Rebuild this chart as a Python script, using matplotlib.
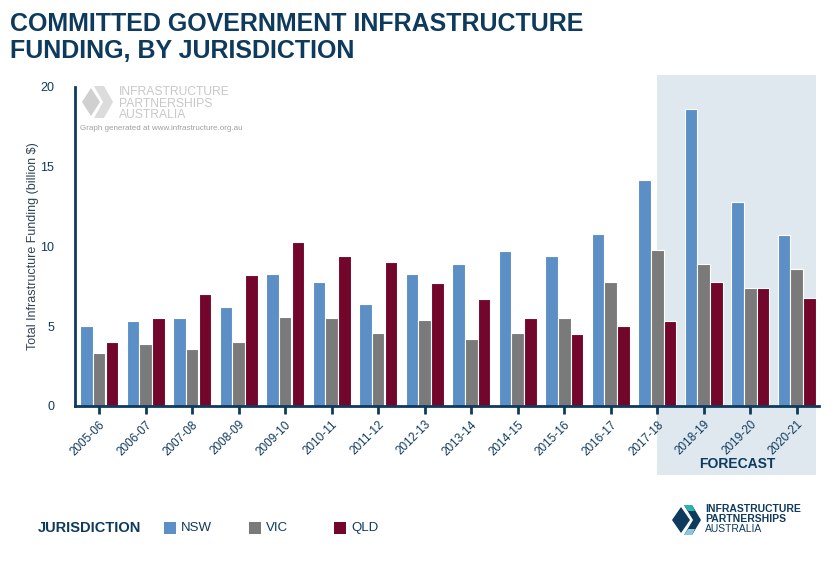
import matplotlib
matplotlib.use("Agg")
import matplotlib.pyplot as plt
import matplotlib.transforms as mtransforms
from matplotlib.patches import Rectangle, Polygon
import numpy as np

plt.rcParams['font.family'] = ['Liberation Sans', 'DejaVu Sans']

# data (billion $)
years = ["2005-06", "2006-07", "2007-08", "2008-09", "2009-10", "2010-11", "2011-12", "2012-13",
         "2013-14", "2014-15", "2015-16", "2016-17", "2017-18", "2018-19", "2019-20", "2020-21"]
nsw = [5.0, 5.3, 5.5, 6.2, 8.3, 7.8, 6.4, 8.3, 8.9, 9.7, 9.4, 10.8, 14.2, 18.6, 12.8, 10.7]
vic = [3.3, 3.9, 3.6, 4.0, 5.6, 5.5, 4.6, 5.4, 4.2, 4.6, 5.5, 7.8, 9.8, 8.9, 7.4, 8.6]
qld = [4.0, 5.5, 7.0, 8.2, 10.3, 9.4, 9.0, 7.7, 6.7, 5.5, 4.5, 5.0, 5.3, 7.8, 7.4, 6.8]
series = ["NSW", "VIC", "QLD"]
forecast_start = "2017-18"

navy = "#0e3a5e"
colors = ["#5b8fc6", "#7a7a7a", "#72062b"]

fig = plt.figure(figsize=(8.37, 5.62), dpi=100)
ax = fig.add_axes([0.0896, 0.2776, 0.889, 0.5676])

x = np.arange(len(years))
w = 0.27
for i, (vals, c) in enumerate(zip([nsw, vic, qld], colors)):
    ax.bar(x + (i - 1) * w * 1.02, vals, width=w, color=c, edgecolor="white",
           linewidth=0.8, zorder=2, label=series[i])

# forecast shading
trans = mtransforms.blended_transform_factory(ax.transData, fig.transFigure)
x0 = years.index(forecast_start)
ax.add_patch(Rectangle((x0, 0.155), 15.42 - x0, 0.8665 - 0.155, transform=trans,
                       facecolor="#dfe8ee", edgecolor="none", zorder=0, clip_on=False))
ax.text((x0 + 15.42) / 2, 1 - 464 / 562, "FORECAST", transform=trans, ha="center", va="center",
        fontsize=10, fontweight="bold", color=navy)

ax.set_xlim(-0.52, 15.48)
ax.set_ylim(0, 20)
ax.set_yticks([0, 5, 10, 15, 20])
ax.set_xticks(x)
ax.set_xticklabels(years, rotation=45, ha="right", rotation_mode="anchor")
for s in ["top", "right"]:
    ax.spines[s].set_visible(False)
for s in ["left", "bottom"]:
    ax.spines[s].set_color(navy)
    ax.spines[s].set_linewidth(2)
ax.tick_params(axis="x", length=6, width=2, color=navy, labelcolor=navy, labelsize=8.5, pad=3)
ax.tick_params(axis="y", length=0, labelcolor=navy, labelsize=9, pad=15)
ax.set_ylabel("Total Infrastructure Funding (billion $)", fontsize=9, color="#334455")
ax.yaxis.set_label_coords(-0.048, 0.5)
ax.set_facecolor("none")

# title
fig.text(0.012, 0.978, "COMMITTED GOVERNMENT INFRASTRUCTURE\nFUNDING, BY JURISDICTION",
         ha="left", va="top", fontsize=18, fontweight="bold", color=navy, linespacing=1.12)

# watermark logo
W, H = 837, 562
def px(xp, yp):
    return (xp / W, 1 - yp / H)
gray = "#d0d0d0"
fig.patches.append(Polygon([px(82, 102), px(91, 88), px(100, 102), px(91, 116)], closed=True,
                           transform=fig.transFigure, facecolor=gray, edgecolor="none"))
fig.patches.append(Polygon([px(94, 86), px(104, 86), px(113, 102), px(104, 118), px(94, 118), px(103, 102)],
                           closed=True, transform=fig.transFigure, facecolor="#dcdcdc", edgecolor="none"))
fig.text(119 / W, 1 - 86 / H, "INFRASTRUCTURE\nPARTNERSHIPS", ha="left", va="top", fontsize=8.7,
         color="#c8c8c8", linespacing=0.95)
fig.text(119 / W, 1 - 109 / H, "AUSTRALIA", ha="left", va="top", fontsize=8.7, color="#c8c8c8")
fig.text(80 / W, 1 - 129 / H, "Graph generated at www.infrastructure.org.au", ha="left", va="center",
         fontsize=5.8, color="#a0a0a0")

# legend
fig.text(38 / W, 1 - 528 / H, "JURISDICTION", ha="left", va="center", fontsize=10.5,
         fontweight="bold", color=navy)
for name, c, lx in zip(series, colors, [164, 249, 334]):
    fig.patches.append(Rectangle(px(lx, 534), 12 / W, 12 / H, transform=fig.transFigure,
                                 facecolor=c, edgecolor="none"))
    fig.text((lx + 17) / W, 1 - 528 / H, name, ha="left", va="center", fontsize=9.5, color=navy)

# bottom-right logo
fig.patches.append(Polygon([px(672, 520), px(681, 507), px(690, 520), px(681, 533)], closed=True,
                           transform=fig.transFigure, facecolor=navy, edgecolor="none"))
fig.patches.append(Polygon([px(684, 505), px(692, 505), px(701, 520), px(692, 535), px(684, 535), px(693, 520)],
                           closed=True, transform=fig.transFigure, facecolor=navy, edgecolor="none"))
fig.patches.append(Polygon([px(684, 505), px(692, 505), px(695, 511), px(688, 511)], closed=True,
                           transform=fig.transFigure, facecolor="#2bb3b1", edgecolor="none"))
fig.patches.append(Polygon([px(688, 529), px(695, 529), px(692, 535), px(684, 535)], closed=True,
                           transform=fig.transFigure, facecolor="#8cc6df", edgecolor="none"))
fig.text(705 / W, 1 - 504 / H, "INFRASTRUCTURE\nPARTNERSHIPS", ha="left", va="top", fontsize=7.5,
         fontweight="bold", color=navy, linespacing=0.95)
fig.text(705 / W, 1 - 524 / H, "AUSTRALIA", ha="left", va="top", fontsize=7.5, color=navy)

fig.savefig("out.png", dpi=100)
